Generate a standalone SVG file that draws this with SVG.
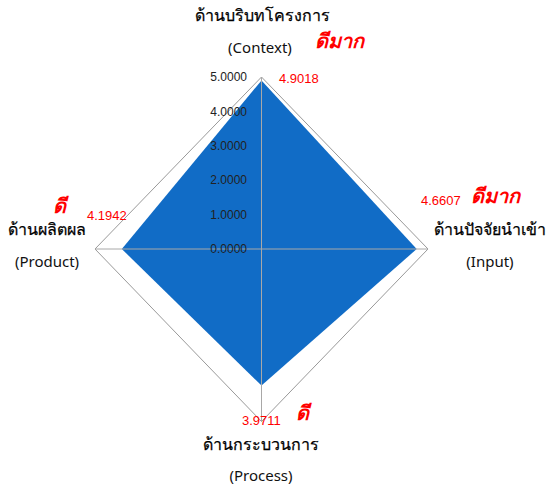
<svg xmlns="http://www.w3.org/2000/svg" width="548" height="488" viewBox="0 0 548 488">
<style>
.lbl{font-family:"Noto Sans","Liberation Sans",sans-serif;font-size:15px;fill:#111;text-anchor:middle}
.th{font-family:"Noto Sans","Liberation Sans",sans-serif;font-size:16px;fill:#000;text-anchor:middle;stroke:#000;stroke-width:0.25}
.tick{font-family:"Liberation Sans",Arial,sans-serif;font-size:12px;fill:#222;text-anchor:end}
.val{font-family:"Liberation Sans",Arial,sans-serif;font-size:13px;fill:#ff0000}
.grade{font-family:"Noto Sans","Liberation Sans",sans-serif;font-size:20px;font-weight:bold;font-style:italic;fill:#ff0000}
.grid{fill:none;stroke:#999;stroke-width:1}
</style>
<rect width="548" height="488" fill="#fff"/>
<g id="grid">
<polygon class="grid" points="261.5,77 428,249 261.5,421.5 95,249"/>
</g>
<g id="data">
<polygon points="261.5,80.4 416.7,249 261.5,385.6 121.8,249" fill="#116cc6"/>
</g>
<g id="axes">
<line x1="261.5" y1="77" x2="261.5" y2="421.5" stroke="#a8a8a8" stroke-width="1"/>
<line x1="95" y1="249" x2="428" y2="249" stroke="#a8a8a8" stroke-width="1"/>
</g>
<g id="ticks">
<text class="tick" x="247" y="81">5.0000</text>
<text class="tick" x="247" y="115.5">4.0000</text>
<text class="tick" x="247" y="150">3.0000</text>
<text class="tick" x="247" y="184">2.0000</text>
<text class="tick" x="247" y="219">1.0000</text>
<text class="tick" x="247" y="253">0.0000</text>
</g>
<g id="node-context">
<text class="th" x="262" y="21">ด้านบริบทโครงการ</text>
<text class="lbl" x="260" y="53">(Context)</text>
<text class="grade" x="315" y="48">ดีมาก</text>
<text class="val" x="279" y="83">4.9018</text>
</g>
<g id="node-input">
<text class="val" x="421" y="205">4.6607</text>
<text class="grade" x="471" y="203">ดีมาก</text>
<text class="th" x="490" y="235">ด้านปัจจัยนำเข้า</text>
<text class="lbl" x="490" y="267">(Input)</text>
</g>
<g id="node-process">
<text class="val" x="242" y="425">3.9711</text>
<text class="grade" x="296" y="420">ดี</text>
<text class="th" x="261" y="450">ด้านกระบวนการ</text>
<text class="lbl" x="261" y="481">(Process)</text>
</g>
<g id="node-product">
<text class="grade" x="53" y="213">ดี</text>
<text class="th" x="47" y="235">ด้านผลิตผล</text>
<text class="lbl" x="47" y="267">(Product)</text>
<text class="val" x="87" y="220">4.1942</text>
</g>
</svg>
